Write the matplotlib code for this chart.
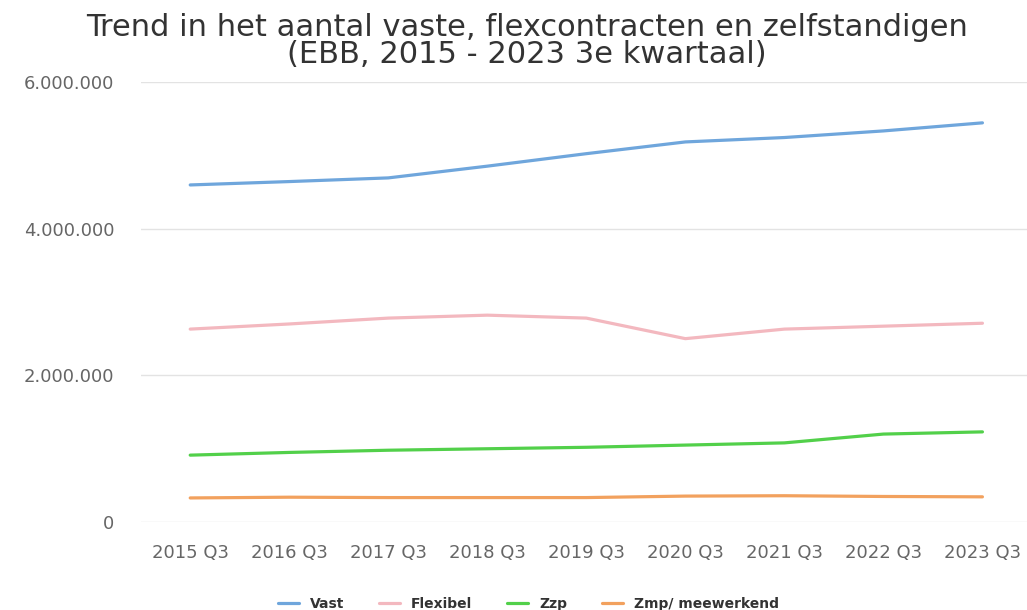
import matplotlib.pyplot as plt
from matplotlib.ticker import FuncFormatter

plt.rcParams['font.family'] = ['DejaVu Sans']

kwartalen = ['2015 Q3', '2016 Q3', '2017 Q3', '2018 Q3', '2019 Q3',
             '2020 Q3', '2021 Q3', '2022 Q3', '2023 Q3']
vast = [4594000, 4640000, 4690000, 4850000, 5020000, 5180000, 5240000, 5330000, 5440000]
flexibel = [2630000, 2700000, 2780000, 2820000, 2780000, 2500000, 2630000, 2670000, 2710000]
zzp = [913000, 950000, 980000, 1000000, 1020000, 1050000, 1080000, 1200000, 1230000]
zmp = [330000, 340000, 335000, 335000, 335000, 355000, 360000, 350000, 345000]

series = [
    ('Vast', vast, '#6fa6dc'),
    ('Flexibel', flexibel, '#f3b8bf'),
    ('Zzp', zzp, '#52d04a'),
    ('Zmp/ meewerkend', zmp, '#f2a15e'),
]


def dots(v, pos):
    return f'{int(v):,}'.replace(',', '.')


fig = plt.figure(figsize=(10.27, 6.10), dpi=100)
ax = fig.add_axes([0.137, 0.144, 0.863, 0.722])

x = range(len(kwartalen))
for name, vals, color in series:
    ax.plot(x, vals, color=color, linewidth=2.3, label=name, solid_capstyle='round')

ax.set_xlim(-0.5, 8.45)
ax.set_ylim(0, 6000000)
ax.set_yticks([0, 2000000, 4000000, 6000000])
ax.yaxis.set_major_formatter(FuncFormatter(dots))
ax.set_xticks(list(x))
ax.set_xticklabels(kwartalen)
ax.grid(axis='y', color='#e3e3e3', linewidth=1)
ax.set_axisbelow(True)
for s in ax.spines.values():
    s.set_visible(False)
ax.tick_params(axis='both', length=0, colors='#666666', labelsize=13)
ax.tick_params(axis='y', pad=19)
ax.tick_params(axis='x', pad=16)

fig.text(0.513, 0.979, 'Trend in het aantal vaste, flexcontracten en zelfstandigen\n(EBB, 2015 - 2023 3e kwartaal)',
         ha='center', va='top', fontsize=22, color='#333333', linespacing=0.9)

leg = fig.legend(loc='lower center', bbox_to_anchor=(0.5146, -0.022), ncol=4, frameon=False,
                 handlelength=1.5, columnspacing=2.5, handletextpad=0.8,
                 prop={'weight': 'bold', 'size': 10})
for t in leg.get_texts():
    t.set_color('#333333')

fig.savefig('out.png', dpi=100)
